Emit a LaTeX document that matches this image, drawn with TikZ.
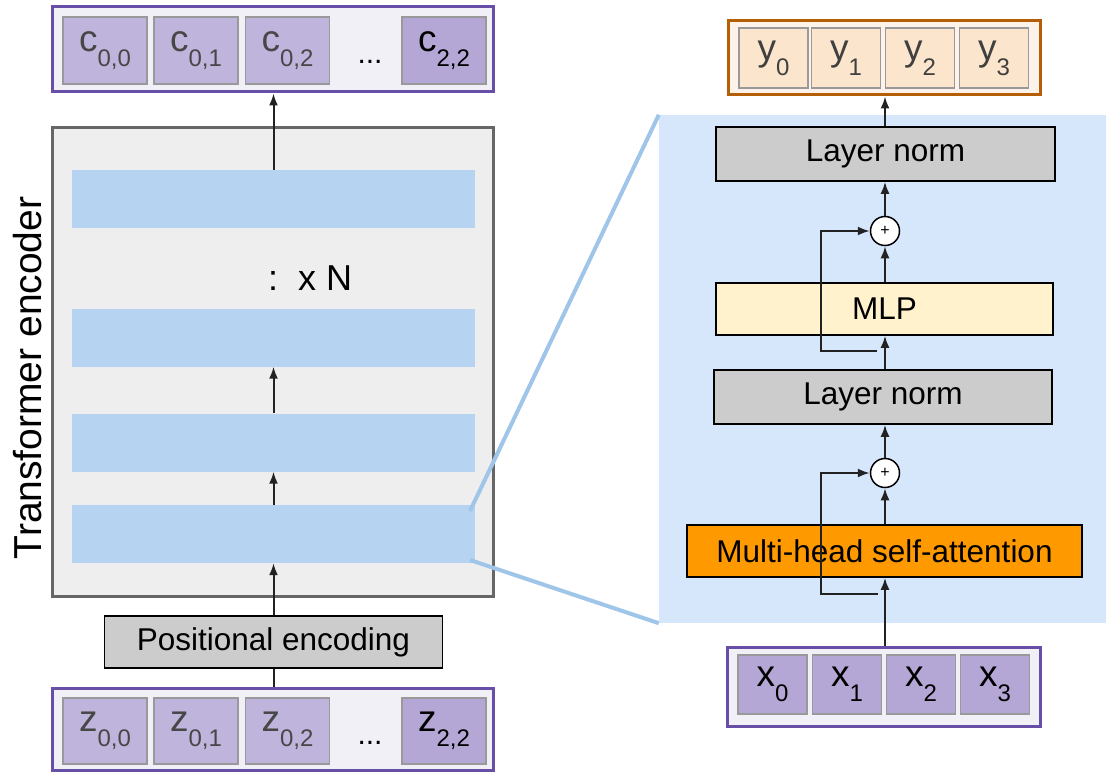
\documentclass[tikz,border=0pt]{standalone}
\usepackage{fontspec}
\setmainfont{Liberation Sans}
\usetikzlibrary{arrows.meta}
\definecolor{tokborder}{HTML}{674EA7}
\definecolor{tokback}{HTML}{F1F0F7}
\definecolor{tokfill}{HTML}{BFB4DC}
\definecolor{tokdark}{HTML}{B4A7D6}
\definecolor{outborder}{HTML}{B45F06}
\definecolor{outback}{HTML}{FDF3EA}
\definecolor{outfill}{HTML}{FCE5CD}
\definecolor{encback}{HTML}{EEEEEE}
\definecolor{encborder}{HTML}{666666}
\definecolor{layerblue}{HTML}{B6D3F2}
\definecolor{panelblue}{HTML}{D6E7FC}
\definecolor{zoomblue}{HTML}{9FC5E8}
\definecolor{normgray}{HTML}{CCCCCC}
\definecolor{mlpyellow}{HTML}{FFF2CC}
\definecolor{attnorange}{HTML}{FF9900}
\definecolor{arrowgray}{HTML}{222222}
\newcommand{\subtok}[2]{#1\raisebox{-0.4em}{\fontsize{24}{24}\selectfont #2}}
\tikzset{
  arr/.style={-{Latex[length=12pt,width=9pt]}, line width=2pt, draw=arrowgray},
  seq/.style={draw=tokborder, fill=tokback, line width=3pt, inner sep=0pt},
  tok/.style={draw=gray!80, fill=tokfill, line width=1.5pt, inner sep=0pt,
    text=black!72, font=\fontsize{37}{37}\selectfont},
  block/.style={draw=black, line width=1.6pt, inner sep=0pt,
    font=\fontsize{31.5}{32}\selectfont},
  layer/.style={fill=layerblue, inner sep=0pt, minimum width=403pt, minimum height=58pt},
  plus/.style={circle, draw=black, fill=white, line width=1.5pt, minimum size=29pt,
    inner sep=0pt, font=\fontsize{16}{16}\selectfont}
}
\begin{document}
\begin{tikzpicture}[x=1pt,y=-1pt]
\useasboundingbox (0,0) rectangle (1106,773);

% encoder column
\node[seq, minimum width=441pt, minimum height=85pt] (cseq) at (272.5,49.5) {};
\foreach \n/\cx/\idx in {c0/105/{0,0}, c1/196/{0,1}, c2/287.5/{0,2}}
  \node[tok, minimum width=84pt, minimum height=67pt] (\n) at (\cx,50.5) {\subtok{c}{\idx}};
\node[tok, fill=tokdark, text=black, minimum width=84pt, minimum height=67pt] (c8) at (444,50.5) {\subtok{c}{2,2}};
\node[anchor=base, font=\fontsize{30}{30}\selectfont] (cdots) at (370,64) {...};

\node[draw=encborder, fill=encback, line width=3pt, inner sep=0pt,
  minimum width=441pt, minimum height=468pt] (enc) at (272.5,362) {};
\foreach \n/\cy in {l1/199, l2/337.5, l3/442.5, l4/534}
  \node[layer] (\n) at (273.5,\cy) {};
\node[anchor=base, font=\fontsize{36}{36}\selectfont] (vdots) at (273,290) {:};
\node[anchor=base west, font=\fontsize{36}{36}\selectfont, inner sep=0pt] (rep) at (298,290) {x N};
\node[rotate=90, font=\fontsize{39}{39}\selectfont] (enclabel) at (28,378) {Transformer encoder};

\node[block, fill=normgray, minimum width=338pt, minimum height=52pt] (pos) at (273.5,642) {Positional encoding};

\node[seq, minimum width=441pt, minimum height=82pt] (zseq) at (272.5,729) {};
\foreach \n/\cx/\idx in {z0/105/{0,0}, z1/196/{0,1}, z2/287.5/{0,2}}
  \node[tok, minimum width=84pt, minimum height=66pt] (\n) at (\cx,731) {\subtok{z}{\idx}};
\node[tok, fill=tokdark, text=black, minimum width=84pt, minimum height=66pt] (z8) at (444,731) {\subtok{z}{2,2}};
\node[anchor=base, font=\fontsize{30}{30}\selectfont] (zdots) at (370,744) {...};

\draw[line width=2pt, draw=arrowgray] (pos.south |- zseq.north) -- (pos.south);
\draw[arr] (pos.north) -- (l4.south);
\draw[arr] (l4.north) -- (l3.south);
\draw[arr] (l3.north) -- (l2.south);
\draw[arr] (l1.north) -- (l1.north |- cseq.south);

% zoomed block
\node[fill=panelblue, inner sep=0pt, minimum width=447pt, minimum height=508pt] (panel) at (882.5,369) {};
\coordinate (zt) at (470,511);
\coordinate (zb) at (470,560);
\draw[zoomblue, line width=4pt] (zt) -- (panel.north west);
\draw[zoomblue, line width=4pt] (zb) -- (panel.south west);

\node[block, fill=normgray, minimum width=339pt, minimum height=54pt] (ln2) at (885.5,154) {Layer norm};
\node[plus] (p2) at (885,231) {+};
\node[block, fill=mlpyellow, minimum width=337pt, minimum height=52pt] (mlp) at (884.5,309) {MLP};
\node[block, fill=normgray, minimum width=338pt, minimum height=54pt] (ln1) at (883,397) {Layer norm};
\node[plus] (p1) at (885,473) {+};
\node[block, fill=attnorange, minimum width=395pt, minimum height=52pt] (attn) at (884.5,551) {Multi-head self-attention};

\node[draw=outborder, fill=outback, line width=3pt, inner sep=0pt,
  minimum width=312pt, minimum height=74pt] (yseq) at (884,58) {};
\foreach \n/\cx/\k in {y0/773.5/0, y1/846/1, y2/920/2, y3/994/3}
  \node[tok, fill=outfill, text=black!75, minimum width=69pt, minimum height=60pt] (\n) at (\cx,58) {\subtok{y}{\k}};

\node[seq, minimum width=313pt, minimum height=79pt] (xseq) at (883.5,686.5) {};
\foreach \n/\cx/\k in {x0/772.5/0, x1/847/1, x2/921/2, x3/995/3}
  \node[tok, fill=tokdark, text=black, minimum width=69pt, minimum height=59pt] (\n) at (\cx,684.5) {\subtok{x}{\k}};

\draw[arr] (xseq.north -| p1.south) -- (attn.south -| p1.south);
\draw[arr] (attn.north -| p1.south) -- (p1.south);
\draw[arr] (p1.north) -- (ln1.south -| p1.north);
\draw[arr] (ln1.north -| p1.north) -- (mlp.south -| p1.north);
\draw[arr] (mlp.north -| p2.south) -- (p2.south);
\draw[arr] (p2.north) -- (ln2.south -| p2.north);
\draw[arr] (ln2.north -| p2.north) -- (yseq.south -| p2.north);

% residual connections
\coordinate (r1) at (878,594);
\coordinate (r1b) at (821,594);
\coordinate (r2) at (877,351);
\coordinate (r2b) at (821,351);
\draw[arr] (r1) -- (r1b) |- (p1.west);
\draw[arr] (r2) -- (r2b) |- (p2.west);
\end{tikzpicture}
\end{document}
